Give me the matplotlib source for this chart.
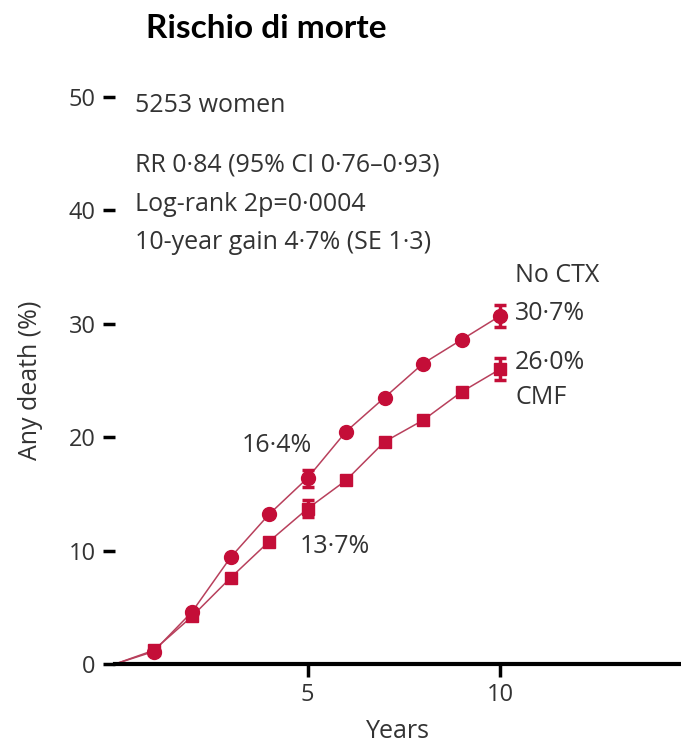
import numpy as np
import matplotlib.pyplot as plt

plt.rcParams['font.family'] = ['Open Sans', 'DejaVu Sans']

# cumulative any-death risk (%) by year
years = [0, 1, 2, 3, 4, 5, 6, 7, 8, 9, 10]
no_ctx = [0, 1.1, 4.6, 9.4, 13.2, 16.4, 20.5, 23.5, 26.5, 28.6, 30.7]
cmf = [0, 1.2, 4.2, 7.6, 10.8, 13.7, 16.2, 19.6, 21.5, 24.0, 26.0]

# error bars at 5 and 10 years
err_years = [5, 10]
no_ctx_err = [0.75, 1.0]
cmf_err = [0.75, 0.95]

yticks = [0, 10, 20, 30, 40, 50]
xticks = [5, 10]

marker_col = '#c40e38'
line_col = '#b8405c'
text_col = '#333333'
fs = 18

fig = plt.figure(figsize=(6.81, 7.44), dpi=100)
ax = fig.add_axes([0.1689, 0.1075, 0.8311, 0.762])

ax.plot(years, no_ctx, color=line_col, lw=1.1, zorder=2)
ax.plot(years, cmf, color=line_col, lw=1.1, zorder=2)
ax.plot(years[1:], no_ctx[1:], 'o', color=marker_col, ms=10, mec=marker_col, zorder=3)
ax.plot(years[1:], cmf[1:], 's', color=marker_col, ms=9, mec=marker_col, zorder=3)

i5, i10 = years.index(5), years.index(10)
ax.errorbar(err_years, [no_ctx[i5], no_ctx[i10]], yerr=no_ctx_err, fmt='none',
            ecolor=marker_col, elinewidth=2.5, capsize=4.5, capthick=2.5, zorder=3)
ax.errorbar(err_years, [cmf[i5], cmf[i10]], yerr=cmf_err, fmt='none',
            ecolor=marker_col, elinewidth=2.5, capsize=4.5, capthick=2.5, zorder=3)

ax.set_xlim(0, 14.7)
ax.set_ylim(0, 50)
ax.set_xticks(xticks)
ax.set_yticks(yticks)
for s in ['top', 'right', 'left']:
    ax.spines[s].set_visible(False)
ax.spines['bottom'].set_linewidth(3)
ax.tick_params(axis='both', colors='black', labelcolor=text_col, labelsize=17,
               width=2.5, length=9)
ax.tick_params(axis='y', pad=5)
ax.tick_params(axis='x', pad=5)
ax.set_xlabel('Years', fontsize=fs, color=text_col, labelpad=8)
ax.set_ylabel('Any death (%)', fontsize=fs, color=text_col, labelpad=18)

# study summary
ax.text(0.52, 49.3, '5253 women', fontsize=fs, color=text_col, va='center')
ax.text(0.52, 44.0, 'RR 0·84 (95% CI 0·76–0·93)', fontsize=fs, color=text_col, va='center')
ax.text(0.52, 40.5, 'Log-rank 2p=0·0004', fontsize=fs, color=text_col, va='center')
ax.text(0.52, 37.2, '10-year gain 4·7% (SE 1·3)', fontsize=fs, color=text_col, va='center')

# value labels
ax.text(10.39, 34.3, 'No CTX', fontsize=fs, color=text_col, va='center')
ax.text(10.39, no_ctx[i10] + 0.2, f'{no_ctx[i10]:.1f}%'.replace('.', '·'),
        fontsize=fs, color=text_col, va='center')
ax.text(10.39, cmf[i10] + 0.6, f'{cmf[i10]:.1f}%'.replace('.', '·'),
        fontsize=fs, color=text_col, va='center')
ax.text(10.39, 23.5, 'CMF', fontsize=fs, color=text_col, va='center')
ax.text(3.29, no_ctx[i5] + 2.9, f'{no_ctx[i5]:.1f}%'.replace('.', '·'),
        fontsize=fs, color=text_col, va='center')
ax.text(4.79, cmf[i5] - 3.3, f'{cmf[i5]:.1f}%'.replace('.', '·'),
        fontsize=fs, color=text_col, va='center')

fig.text(266 / 681, 1 - 28 / 744, 'Rischio di morte', fontsize=24, fontweight='bold',
         family=['Lato', 'DejaVu Sans'], ha='center', va='center')

fig.savefig('out.png', dpi=100)
